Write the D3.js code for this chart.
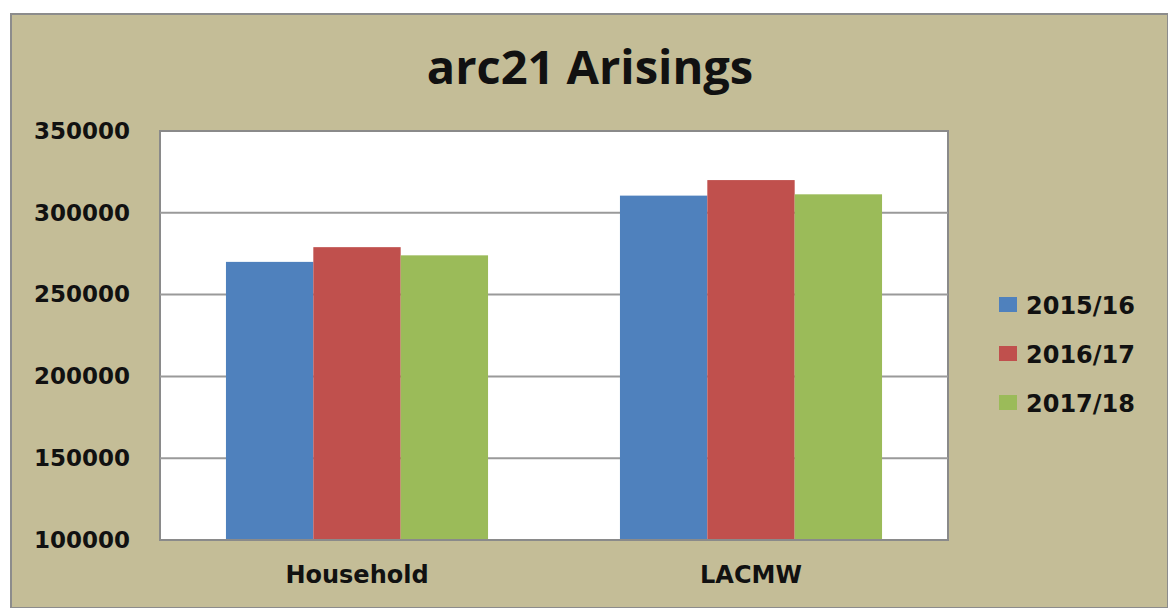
<!DOCTYPE html>
<html>
<head>
<meta charset="utf-8">
<script src="https://cdn.jsdelivr.net/npm/d3@7"></script>
<style>
  body { margin: 0; background: #fff; }
  text { font-family: "DejaVu Sans", Verdana, sans-serif; font-weight: bold; fill: #111; }
</style>
</head>
<body>
<div id="chart"></div>
<script>
var categories = ["Household", "LACMW"];
var seriesNames = ["2015/16", "2016/17", "2017/18"];
var seriesColors = ["#4f81bd", "#c0504d", "#9bbb59"];
var values2015 = [270000, 310500];
var values2016 = [279000, 320000];
var values2017 = [274000, 311300];
var yTicks = [100000, 150000, 200000, 250000, 300000, 350000];

var seriesValues = [values2015, values2016, values2017];

var W = 1168, H = 608;
var plot = {left: 160, top: 131, right: 948, bottom: 540};

var svg = d3.select("#chart").append("svg")
  .attr("width", W).attr("height", H);

// outer chart area
svg.append("rect")
  .attr("x", 11).attr("y", 14)
  .attr("width", W - 11).attr("height", H - 14)
  .attr("fill", "#c4bd97")
  .attr("stroke", "#8c8c8c").attr("stroke-width", 2);

// title
svg.append("text")
  .attr("x", 590).attr("y", 84)
  .attr("text-anchor", "middle")
  .style("font-family", "'Open Sans', sans-serif")
  .style("font-size", "47px")
  .text("arc21 Arisings");

var y = d3.scaleLinear().domain([100000, 350000]).range([plot.bottom, plot.top]);
var x0 = d3.scaleBand().domain(categories).range([plot.left, plot.right]).paddingInner(0).paddingOuter(0);
var x1 = d3.scaleBand().domain(seriesNames).range([0, x0.bandwidth()]).paddingInner(0).paddingOuter(0.755);

// plot area
svg.append("rect")
  .attr("x", plot.left).attr("y", plot.top)
  .attr("width", plot.right - plot.left).attr("height", plot.bottom - plot.top)
  .attr("fill", "#fff")
  .attr("stroke", "#8a8a8a").attr("stroke-width", 2);

// gridlines
svg.append("g")
  .selectAll("line")
  .data(yTicks.slice(1, -1))
  .enter().append("line")
  .attr("x1", plot.left).attr("x2", plot.right)
  .attr("y1", function(d) { return y(d); })
  .attr("y2", function(d) { return y(d); })
  .attr("stroke", "#9a9a9a").attr("stroke-width", 2);

// bars
var groups = svg.append("g")
  .selectAll("g")
  .data(categories)
  .enter().append("g")
  .attr("transform", function(d) { return "translate(" + x0(d) + ",0)"; });

groups.selectAll("rect")
  .data(function(d, i) {
    return seriesNames.map(function(s, j) { return {s: s, j: j, v: seriesValues[j][i]}; });
  })
  .enter().append("rect")
  .attr("x", function(d) { return x1(d.s); })
  .attr("y", function(d) { return y(d.v); })
  .attr("width", x1.bandwidth())
  .attr("height", function(d) { return y(100000) - y(d.v); })
  .attr("fill", function(d) { return seriesColors[d.j]; });

// bottom axis line
svg.append("line")
  .attr("x1", plot.left).attr("x2", plot.right)
  .attr("y1", plot.bottom).attr("y2", plot.bottom)
  .attr("stroke", "#8a8a8a").attr("stroke-width", 2);

// y axis
var yAxis = svg.append("g")
  .attr("transform", "translate(" + plot.left + ",0)")
  .call(d3.axisLeft(y).tickValues(yTicks).tickFormat(d3.format("d")).tickSize(0).tickPadding(30));
yAxis.select(".domain").remove();
yAxis.selectAll("text").style("font-size", "23px").attr("fill", "#111")
  .style("font-family", "'DejaVu Sans', sans-serif");

// x axis
var xAxis = svg.append("g")
  .attr("transform", "translate(0," + plot.bottom + ")")
  .call(d3.axisBottom(x0).tickSize(0).tickPadding(26));
xAxis.select(".domain").remove();
xAxis.selectAll("text").style("font-size", "24px").attr("fill", "#111")
  .style("font-family", "'DejaVu Sans', sans-serif");

// legend
var legend = svg.append("g")
  .selectAll("g")
  .data(seriesNames)
  .enter().append("g")
  .attr("transform", function(d, i) { return "translate(999," + (305 + i * 49) + ")"; });

legend.append("rect")
  .attr("x", 0).attr("y", -8)
  .attr("width", 18).attr("height", 15)
  .attr("fill", function(d, i) { return seriesColors[i]; });

legend.append("text")
  .attr("x", 27).attr("dy", "0.36em")
  .style("font-size", "24px")
  .text(function(d) { return d; });
</script>
</body>
</html>
